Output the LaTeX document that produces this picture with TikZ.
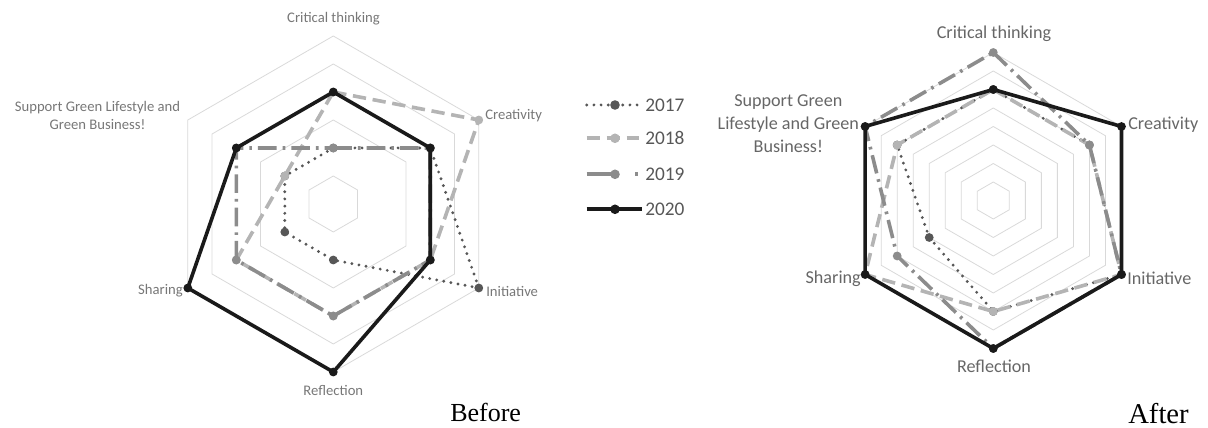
\documentclass[tikz,border=0pt]{standalone}
\usepackage{fontspec}
\newfontfamily\labfont{Carlito}
\newfontfamily\capfont{Liberation Serif}
\definecolor{gridgray}{HTML}{D9D9D9}
\definecolor{c17}{HTML}{575757}
\definecolor{c18}{HTML}{B4B4B4}
\definecolor{c19}{HTML}{8C8C8C}
\definecolor{c20}{HTML}{1A1A1A}
\definecolor{labgrayA}{HTML}{777777}
\definecolor{labgrayB}{HTML}{666666}

% one hexagonal grid ring of the given radius
\newcommand\hexring[1]{%
  \draw[gridline] (90:#1) -- (30:#1) -- (-30:#1) -- (-90:#1) -- (-150:#1) -- (150:#1) -- cycle;}

% one data series: #1 year, #2 radius per unit, #3..#8 values
% (Critical thinking, Creativity, Initiative, Reflection, Sharing, Support)
\newcommand\radarseries[8]{%
  \draw[line#1] (90:{#2*#3}) -- (30:{#2*#4}) -- (-30:{#2*#5}) -- (-90:{#2*#6})
     -- (-150:{#2*#7}) -- (150:{#2*#8}) -- cycle;
  \foreach \ang/\val in {90/#3,30/#4,-30/#5,-90/#6,-150/#7,150/#8}
    \fill[dot#1] (\ang:{#2*\val}) circle[radius=4.4];}

\begin{document}
\begin{tikzpicture}[x=0.75pt,y=0.75pt,
  gridline/.style={draw=gridgray,line width=0.6pt},
  line17/.style={draw=c17,line width=2.4pt,line cap=round,dash pattern=on 0pt off 5.4pt},
  dot17/.style={fill=c17},
  line18/.style={draw=c18,line width=2.7pt,dash pattern=on 10pt off 5pt},
  dot18/.style={fill=c18},
  line19/.style={draw=c19,line width=2.7pt,dash pattern=on 14pt off 4.5pt on 2pt off 4.5pt},
  dot19/.style={fill=c19},
  line20/.style={draw=c20,line width=2.7pt,line join=round},
  dot20/.style={fill=c20},
  lblA/.style={text=labgrayA,font=\labfont\fontsize{11}{13.7}\selectfont,inner sep=0pt,align=center},
  lblB/.style={text=labgrayB,font=\labfont\fontsize{13.6}{17.5}\selectfont,inner sep=0pt,align=center},
  legtext/.style={text=c17,font=\labfont\fontsize{14.5}{16}\selectfont,inner sep=0pt,anchor=west},
  caption/.style={font=\capfont,inner sep=0pt,anchor=base west}]
\useasboundingbox (0,0) rectangle (1208,428);

% ---------- Before ----------
\begin{scope}[shift={(333.3,224)}]
  \foreach \k in {1,3,5,6} {\pgfmathsetmacro\rr{28*\k}\hexring{\rr}}
  \radarseries{17}{28}{2}{4}{6}{2}{2}{2}
  \radarseries{18}{28}{4}{6}{4}{4}{4}{2}
  \radarseries{19}{28}{2}{4}{4}{4}{4}{4}
  \radarseries{20}{28}{4}{4}{4}{6}{6}{4}
\end{scope}
\node[lblA] (bCrit) at (333.5,409.7) {Critical thinking};
\node[lblA,anchor=west] (bCrea) at (485,312) {Creativity};
\node[lblA,anchor=west] (bInit) at (486,136.3) {Initiative};
\node[lblA] (bRefl) at (333.3,38) {Reflection};
\node[lblA,anchor=east] (bShar) at (183,137) {Sharing};
\node[lblA] (bSupp) at (97.5,312.2) {Support Green Lifestyle and\\Green Business!};

% ---------- legend ----------
\draw[line17] (586.7,323) -- (639,323);
\fill[dot17] (615,323) circle[radius=4.8];
\node[legtext] (l17) at (645,323) {2017};
\draw[line18] (586.7,289.7) -- (639,289.7);
\fill[dot18] (615,289.7) circle[radius=4.8];
\node[legtext] (l18) at (645,289.7) {2018};
\draw[line19,dash pattern=on 21pt off 15.5pt on 2pt off 20pt] (586.7,253.7) -- (641,253.7);
\fill[dot19] (615,253.7) circle[radius=4.8];
\node[legtext] (l19) at (645,253.7) {2019};
\draw[line20] (586.7,218.7) -- (642,218.7);
\fill[dot20] (615,218.7) circle[radius=4.8];
\node[legtext] (l20) at (645,218.7) {2020};

% ---------- After ----------
\begin{scope}[shift={(993.3,227.5)}]
  \foreach \k in {1,...,8} {\pgfmathsetmacro\rr{18.5*\k}\hexring{\rr}}
  \radarseries{17}{18.5}{6}{6}{8}{6}{4}{6}
  \radarseries{18}{18.5}{6}{6}{8}{6}{8}{6}
  \radarseries{19}{18.5}{8}{6}{8}{8}{6}{8}
  \radarseries{20}{18.5}{6}{8}{8}{8}{8}{8}
\end{scope}
\node[lblB] (aCrit) at (994,394.7) {Critical thinking};
\node[lblB,anchor=west] (aCrea) at (1128,303.7) {Creativity};
\node[lblB,anchor=west] (aInit) at (1127,149.7) {Initiative};
\node[lblB] (aRefl) at (994,61.3) {Reflection};
\node[lblB,anchor=east] (aShar) at (861,149.7) {Sharing};
\node[lblB] (aSupp) at (788.3,304.3) {Support Green\\Lifestyle and Green\\Business!};

% ---------- captions ----------
\node[caption,font=\capfont\fontsize{19.5}{22}\selectfont] (capBefore) at (450,6) {Before};
\node[caption,font=\capfont\fontsize{21.5}{24}\selectfont] (capAfter) at (1128,4) {After};
\end{tikzpicture}
\end{document}
